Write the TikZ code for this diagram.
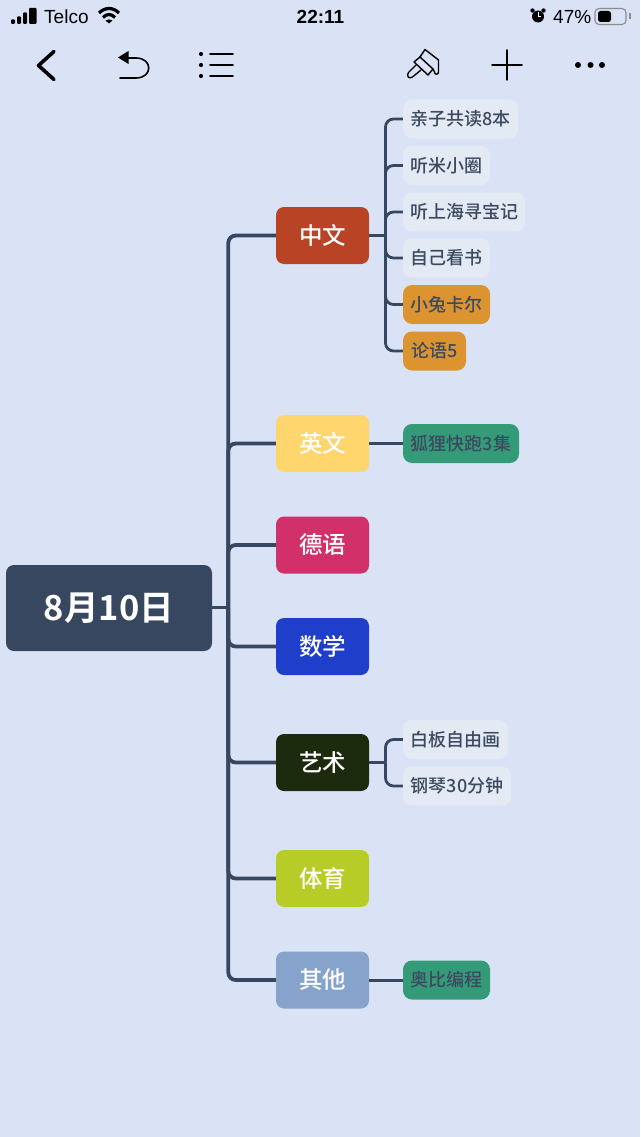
\documentclass[tikz,border=0pt]{standalone}
\usepackage{fontspec}
\setmainfont{Liberation Sans}
\newfontfamily\cjk{Noto Sans CJK SC Medium}
\newfontfamily\cjkb{Noto Sans CJK SC Bold}
\definecolor{bgc}{HTML}{DAE3F6}
\definecolor{linec}{HTML}{36475F}
\definecolor{leafc}{HTML}{E3EAF3}
\definecolor{orangec}{HTML}{DC9431}
\definecolor{greenc}{HTML}{359A78}
\definecolor{leaftext}{HTML}{3B4A61}
\definecolor{cA}{HTML}{B94425}
\definecolor{cB}{HTML}{FFD66E}
\definecolor{cC}{HTML}{D13168}
\definecolor{cD}{HTML}{1F3FCB}
\definecolor{cE}{HTML}{1C2A0E}
\definecolor{cF}{HTML}{B8CC28}
\definecolor{cG}{HTML}{86A3CB}
\tikzset{
 rootbox/.style={fill=linec,rounded corners=8,minimum width=206,minimum height=86,inner sep=0,text=white,font=\cjkb\fontsize{34.5}{37}\selectfont},
 topic/.style={fill=#1,rounded corners=8,minimum width=93,minimum height=57,inner sep=0,text=white,font=\cjk\fontsize{23.5}{26}\selectfont},
 leaf/.style={fill=leafc,rounded corners=9,minimum height=39,inner sep=0,text=leaftext,font=\cjk\fontsize{18}{20}\selectfont},
 conn/.style={draw=linec,line width=2.8,rounded corners=8},
 straight/.style={draw=linec,line width=3},
 connb/.style={draw=linec,line width=3.8,rounded corners=7.5},
 icon/.style={draw=black,line width=1.6,line cap=round,line join=round},
 statustext/.style={inner sep=0,text=black,font=\fontsize{19}{21}\selectfont},
}
\begin{document}
\begin{tikzpicture}[x=1pt,y=-1pt]
\useasboundingbox (0,0) rectangle (640,1137);
\fill[bgc] (0,0) rectangle (640,1137);
\node[rootbox] (root) at (109,608) {8月10日};
\node[topic=cA] (zw) at (322.5,235.5) {中文};
\node[topic=cB] (yw) at (322.5,443.5) {英文};
\node[topic=cC] (dy) at (322.5,545) {德语};
\node[topic=cD] (sx) at (322.5,646.5) {数学};
\node[topic=cE] (ys) at (322.5,762.5) {艺术};
\node[topic=cF] (ty) at (322.5,878.5) {体育};
\node[topic=cG] (qt) at (322.5,980) {其他};
\node[leaf,minimum width=115] (a1) at (460.5,119) {亲子共读8本};
\node[leaf,minimum width=87] (a2) at (446.5,165.5) {听米小圈};
\node[leaf,minimum width=122] (a3) at (464,212) {听上海寻宝记};
\node[leaf,minimum width=87] (a4) at (446.5,258) {自己看书};
\node[leaf,fill=orangec,minimum width=87] (a5) at (446.5,304.5) {小兔卡尔};
\node[leaf,fill=orangec,minimum width=63] (a6) at (434.5,351) {论语5};
\node[leaf,fill=greenc,minimum width=116] (b1) at (461,443.5) {狐狸快跑3集};
\node[leaf,minimum width=105] (c1) at (455.5,739.5) {白板自由画};
\node[leaf,minimum width=108] (c2) at (457,786) {钢琴30分钟};
\node[leaf,fill=greenc,minimum width=87] (d1) at (446.5,980) {奥比编程};
\coordinate (sp) at (228.3,607.5);
\draw[straight] (root.east |- sp) -- (sp);
\foreach \t in {zw,yw,dy,sx,ys,ty,qt}{\draw[connb] (sp) |- (\t.west);}
\coordinate (sa) at (385.5,235.5);
\draw[straight] (zw.east) -- (sa);
\foreach \t in {a1,a2,a3,a4,a5,a6}{\draw[conn] (sa) |- (\t.west);}
\draw[straight] (yw.east) -- (b1.west);
\coordinate (sc) at (385.5,762.5);
\draw[straight] (ys.east) -- (sc);
\foreach \t in {c1,c2}{\draw[conn] (sc) |- (\t.west);}
\draw[straight] (qt.east) -- (d1.west);
% status bar
\fill[black,rounded corners=1] (11,19.5) rectangle (15,24);
\fill[black,rounded corners=1] (17,16.5) rectangle (21,24);
\fill[black,rounded corners=1] (23,12.5) rectangle (27,24);
\fill[black,rounded corners=1] (29,8) rectangle (36.5,24);
\node[statustext,anchor=west] (telco) at (44,16.5) {Telco};
\draw[black,line width=3.2] (99,13) .. controls (105,7) and (113,7) .. (119,13);
\draw[black,line width=3.2] (103,17.5) .. controls (107,13.5) and (111,13.5) .. (115,17.5);
\fill[black] (109,23.5) -- (105.5,20.5) .. controls (107.5,19) and (110.5,19) .. (112.5,20.5) -- cycle;
\node[statustext,font=\bfseries\fontsize{19}{21}\selectfont] (clock) at (320.5,16.5) {22:11};
\fill[black] (538,16.5) circle (6);
\fill[black] (532.5,10.5) circle (2.2) (543.5,10.5) circle (2.2);
\draw[white,line width=1] (538,12.5) -- (538,17) -- (541,17);
\node[statustext,anchor=west] (pct) at (553,16.5) {47\%};
\draw[draw=black!45,line width=1.1,rounded corners=4] (595,8.5) rectangle (626,24.5);
\fill[black,rounded corners=2.5] (598,11) rectangle (611,22);
\fill[black!45] (629,13.5) rectangle (631,19.5);
% toolbar
\draw[icon,line width=3.6] (54,51.5) -- (38.5,65.5) -- (54,79.5);
\fill[black] (118,57.5) -- (128.5,51) -- (128.5,64) -- cycle;
\draw[icon] (128,58) -- (136,58) .. controls (153,58) and (153,78) .. (136,78) -- (120,78);
\foreach \y in {54,65,76}{
 \fill[black] (201,\y) circle (2.1);
 \draw[icon] (210,\y) -- (233,\y);
}
\draw[icon,line width=1.5] (507,50) -- (507,80);
\draw[icon,line width=1.5] (492,65) -- (522,65);
\foreach \x in {578,590.5,602}{\fill[black] (\x,65) circle (3);}
% brush
\draw[icon,line width=1.4] (420,57) -- (425,49.5) -- (438.5,60) -- (438.5,72) .. controls (438.5,75) and (434.5,75) .. (434.5,72) -- (433,69) -- (428,75);
\draw[icon,line width=1.4] (420,57) -- (414,62) -- (428,75);
\draw[icon,line width=1.4] (420,57) -- (433,69);
\draw[icon,line width=1.4] (416,65) -- (408.5,72.5) .. controls (406,76) and (409,79.5) .. (412.5,77) -- (421,70);
\end{tikzpicture}
\end{document}
